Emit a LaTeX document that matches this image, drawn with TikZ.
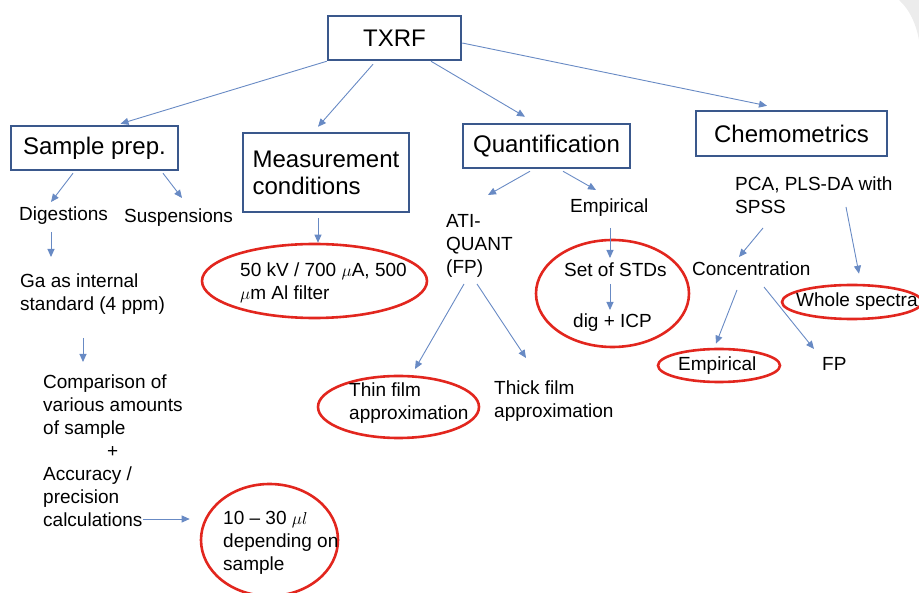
\documentclass[tikz,border=0pt]{standalone}
\usepackage{fontspec}
\setmainfont{Liberation Sans}
\usetikzlibrary{arrows.meta,shapes.geometric,positioning}
\definecolor{boxblue}{RGB}{58,88,140}
\definecolor{linkblue}{RGB}{104,138,196}
\definecolor{ringred}{RGB}{226,38,30}
\begin{document}
\begin{tikzpicture}[x=1pt,y=-1pt,
    box/.style={draw=boxblue,line width=2.5pt,inner sep=0pt,align=left,
        font=\fontsize{24}{27}\selectfont},
    txt/.style={anchor=base west,inner sep=0pt,align=left,
        font=\fontsize{19}{23}\selectfont},
    ring/.style={draw=ringred,line width=2.6pt,ellipse,inner sep=0pt},
    link/.style={draw=linkblue,line width=0.9pt,-{Triangle[length=8pt,width=7pt]}}]
  \useasboundingbox (0,0) rectangle (919,593);
  \clip (0,0) rectangle (919,593);
  % corner of the slide
  \fill[gray!15] (899,0) .. controls (910,10) and (916,24) .. (919,40) -- (919,0) -- cycle;
  % boxes
  \node[box,minimum width=133pt,minimum height=44pt] (txrf) at (394.5,38) {TXRF};
  \node[box,minimum width=167pt,minimum height=44pt] (prep) at (94.5,148) {Sample prep.};
  \node[box,minimum width=166pt,minimum height=79pt] (meas) at (326,172.5) {Measurement\\conditions};
  \node[box,minimum width=167pt,minimum height=44pt] (quant) at (546.5,146) {Quantification};
  \node[box,minimum width=191pt,minimum height=45pt] (chemo) at (791.5,133.5) {Chemometrics};
  % red rings
  \node[ring,minimum width=225pt,minimum height=74pt] (ringmeas) at (314.5,281) {};
  \node[ring,minimum width=153pt,minimum height=107pt] (ringstd) at (612.5,293.5) {};
  \node[ring,minimum width=140pt,minimum height=34pt] (ringwhole) at (852,302) {};
  \node[ring,minimum width=122pt,minimum height=33pt] (ringemp) at (719,365.5) {};
  \node[ring,minimum width=161pt,minimum height=62pt] (ringthin) at (398.5,407) {};
  \node[ring,minimum width=137pt,minimum height=112pt] (ringten) at (269.5,540) {};
  % texts (base = last line)
  \node[txt] (dig) at (19,221) {Digestions};
  \node[txt] (susp) at (124,223) {Suspensions};
  \node[txt] (ga) at (20,311) {Ga as internal\\standard (4 ppm)};
  \node[txt] (comp) at (43,526) {Comparison of\\various amounts\\of sample\\\hspace*{64pt}+\\Accuracy /\\precision\\calculations};
  \node[txt] (measval) at (240,300) {50 kV / 700 $\mu$A, 500\\$\mu$m Al filter};
  \node[txt] (ati) at (446,274) {ATI-\\QUANT\\(FP)};
  \node[txt] (emp) at (570,213) {Empirical};
  \node[txt] (stds) at (564,277) {Set of STDs};
  \node[txt] (icp) at (573,328) {dig + ICP};
  \node[txt] (pca) at (735,214) {PCA, PLS-DA with\\SPSS};
  \node[txt] (conc) at (692,276) {Concentration};
  \node[txt] (whole) at (796,307) {Whole spectra};
  \node[txt] (emptwo) at (678,371) {Empirical};
  \node[txt] (fp) at (822,371) {FP};
  \node[txt] (thin) at (349,420) {Thin film\\approximation};
  \node[txt] (thick) at (494,418) {Thick film\\approximation};
  \node[txt] (ten) at (223,570) {10 -- 30 $\mu l$\\depending on\\sample};
  % arrows
  \draw[link] (txrf.south west) -- ([shift={(26,-1)}]prep.north);
  \draw[link] ([shift={(-21.5,3)}]txrf.south) -- ([shift={(-8,-5)}]meas.north);
  \draw[link] ([xshift=36.5pt]txrf.south) -- ([shift={(-21.5,-6)}]quant.north);
  \draw[link] ([shift={(0,5)}]txrf.east) -- ([shift={(-24.5,-4)}]chemo.north);
  \draw[link] ([shift={(-21.5,2)}]prep.south) -- ([shift={(32,-19)}]dig.base west);
  \draw[link] ([shift={(68.5,2)}]prep.south) -- ([shift={(58,-25)}]susp.base west);
  \draw[link] ([shift={(-8,5)}]meas.south) -- ([xshift=3.5pt]ringmeas.north);
  \draw[link] ([shift={(32,11)}]dig.base west) -- ([shift={(31,-54)}]ga.base west);
  \draw[link] ([shift={(63,27)}]ga.base west) -- ([shift={(40,-164)}]comp.base west);
  \draw[link] ([shift={(100,-7)}]comp.base west) -- ([shift={(-10,-21)}]ringten.west);
  \draw[link] ([shift={(-16.5,2)}]quant.south) -- ([shift={(42,-79)}]ati.base west);
  \draw[link] ([shift={(16.5,2)}]quant.south) -- ([shift={(26,-23)}]emp.base west);
  \draw[link] ([shift={(18,10)}]ati.base west) -- ([shift={(66,-51)}]thin.base west);
  \draw[link] ([shift={(31,10)}]ati.base west) -- ([shift={(32,-60)}]thick.base west);
  \draw[link] ([shift={(40,15)}]emp.base west) -- ([shift={(46,-19)}]stds.base west);
  \draw[link] ([shift={(46,7)}]stds.base west) -- ([shift={(37,-18)}]icp.base west);
  \draw[link] ([shift={(28,14)}]pca.base west) -- ([shift={(47,-19)}]conc.base west);
  \draw[link] ([shift={(111,-7)}]pca.base west) -- ([shift={(7,-10)}]ringwhole.north);
  \draw[link] ([shift={(45,14)}]conc.base west) -- ([shift={(-3,-4)}]ringemp.north);
  \draw[link] ([shift={(72,11)}]conc.base west) -- ([shift={(-8,-22)}]fp.base west);
\end{tikzpicture}
\end{document}
